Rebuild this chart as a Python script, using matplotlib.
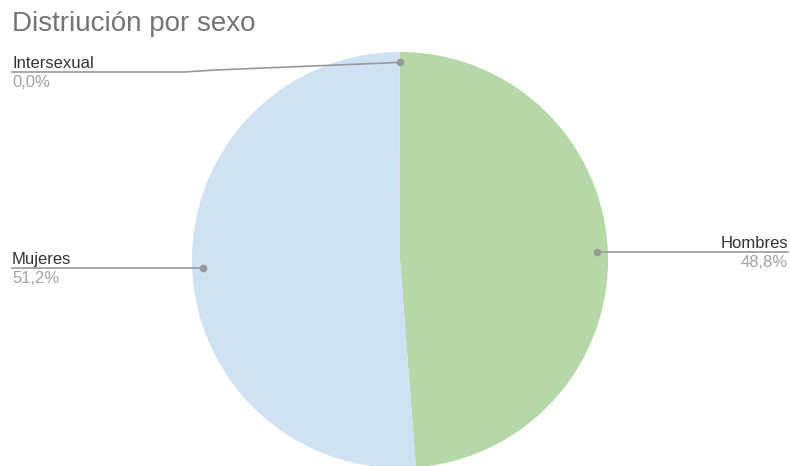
import matplotlib.pyplot as plt
import numpy as np

plt.rcParams['font.family'] = ['Liberation Sans', 'DejaVu Sans']

labels = ['Hombres', 'Mujeres', 'Intersexual']
values = [48.8, 51.2, 0.03]
pct_labels = ['48,8%', '51,2%', '0,0%']
colors = ['#b6d7a8', '#cfe2f3', '#f4cccc']

W, H = 790, 466
fig = plt.figure(figsize=(W / 100, H / 100), dpi=100)
ax = fig.add_axes([0, 0, 1, 1])

cx, cy, r = 400, H - 260, 208
wedges, _ = ax.pie(values, colors=colors, startangle=90, counterclock=False,
                   center=(cx, cy), radius=r, wedgeprops=dict(linewidth=0))
ax.set_xlim(0, W)
ax.set_ylim(0, H)
ax.set_aspect('equal')
ax.axis('off')

# title
fig.text(12 / W, 1 - 31 / H, 'Distriución por sexo', fontsize=20,
         color='#757575', va='baseline', ha='left')

line_c = '#999999'
text_c = '#333333'
pct_c = '#a3a3a3'
fs = 12

def dot_pos(w):
    a = np.deg2rad((w.theta1 + w.theta2) / 2)
    return cx + 0.95 * r * np.cos(a), cy + 0.95 * r * np.sin(a)

def labels_at(x, y, name, pct, ha):
    ax.text(x, y + 4, name, ha=ha, va='baseline', fontsize=fs, color=text_c)
    ax.text(x, y - 15, pct, ha=ha, va='baseline', fontsize=fs, color=pct_c)

# Hombres (right)
dx, dy = dot_pos(wedges[0])
ax.plot([dx, 788], [dy, dy], color=line_c, lw=1.2)
ax.plot(dx, dy, 'o', color=line_c, ms=4.5)
labels_at(788, dy, labels[0], pct_labels[0], 'right')

# Mujeres (left)
dx, dy = dot_pos(wedges[1])
ax.plot([12, dx], [dy, dy], color=line_c, lw=1.2)
ax.plot(dx, dy, 'o', color=line_c, ms=4.5)
labels_at(12, dy, labels[1], pct_labels[1], 'left')

# Intersexual (top left, bent leader)
dx, dy = dot_pos(wedges[2])
ly = H - 72
xs = [12, 185, 215, dx]
ys = [ly, ly, ly + 2, dy]
ax.plot(xs, ys, color=line_c, lw=1.2)
ax.plot(dx, dy, 'o', color=line_c, ms=4.5)
labels_at(12, ly, labels[2], pct_labels[2], 'left')

fig.savefig('out.png', dpi=100)
